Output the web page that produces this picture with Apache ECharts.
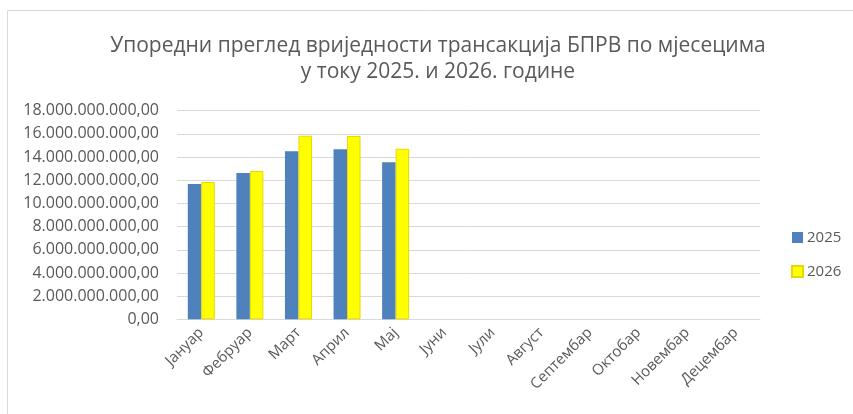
<!DOCTYPE html>
<html>
<head>
<meta charset="utf-8">
<script src="https://cdn.jsdelivr.net/npm/echarts@6/dist/echarts.min.js"></script>
<style>
html,body{margin:0;padding:0;background:#fff;}
#chart{width:853px;height:414px;}
</style>
</head>
<body>
<div id="chart"></div>
<script>
var months = ['Јануар','Фебруар','Март','Април','Мај','Јуни','Јули','Август','Септембар','Октобар','Новембар','Децембар'];
var values2025 = [11670000000, 12620000000, 14500000000, 14670000000, 13550000000, null, null, null, null, null, null, null];
var values2026 = [11850000000, 12800000000, 15840000000, 15820000000, 14720000000, null, null, null, null, null, null, null];
var seriesNames = ['2025', '2026'];
var yMin = 0, yMax = 18000000000, yStep = 2000000000;
var titleLines = ['Упоредни преглед вриједности трансакција БПРВ по мјесецима', 'у току 2025. и 2026. године'];

function fmt(v) {
  var s = Math.round(v).toString();
  var out = '';
  while (s.length > 3) { out = '.' + s.slice(-3) + out; s = s.slice(0, -3); }
  return s + out + ',00';
}

var FONT = 'Open Sans';
var chart = echarts.init(document.getElementById('chart'), null, {renderer: 'canvas'});
chart.setOption({
  animation: false,
  backgroundColor: '#ffffff',
  textStyle: {fontFamily: FONT},
  graphic: [{
    type: 'rect', silent: true, z: -1,
    shape: {x: 7.5, y: 10.5, width: 1000, height: 600},
    style: {fill: 'none', stroke: '#d9d9d9', lineWidth: 1}
  }],
  title: {
    text: titleLines.join('\n'),
    left: 438, top: 33, textAlign: 'center', padding: 0,
    textStyle: {fontFamily: FONT, fontSize: 21, fontWeight: 'normal', color: '#595959', lineHeight: 26}
  },
  legend: {
    orient: 'vertical', left: 791, top: 230, padding: 0,
    itemWidth: 11, itemHeight: 11, itemGap: 19,
    textStyle: {fontFamily: FONT, fontSize: 15, color: '#595959', padding: [0,0,0,-1]},
    data: [
      {name: seriesNames[0], icon: 'rect'},
      {name: seriesNames[1], icon: 'rect'}
    ]
  },
  grid: {left: 177, right: 93, top: 110.7, bottom: 94.7, containLabel: false},
  xAxis: {
    type: 'category', data: months,
    axisLine: {lineStyle: {color: '#d9d9d9'}},
    axisTick: {show: false},
    axisLabel: {rotate: 45, color: '#595959', fontSize: 15, fontFamily: FONT, margin: 11, interval: 0}
  },
  yAxis: {
    type: 'value', min: yMin, max: yMax, interval: yStep,
    axisLine: {show: false}, axisTick: {show: false},
    splitLine: {lineStyle: {color: '#d9d9d9', width: 1}},
    axisLabel: {color: '#595959', fontSize: 16, fontFamily: FONT, margin: 18, formatter: fmt}
  },
  series: [
    {name: seriesNames[0], type: 'bar', data: values2025, barWidth: 13.5, barGap: '0%',
     itemStyle: {color: '#4f81bd'}},
    {name: seriesNames[1], type: 'bar', data: values2026, barWidth: 13.5, barGap: '0%',
     itemStyle: {color: '#ffff00', borderColor: '#e6d800', borderWidth: 1}}
  ]
});
</script>
</body>
</html>
